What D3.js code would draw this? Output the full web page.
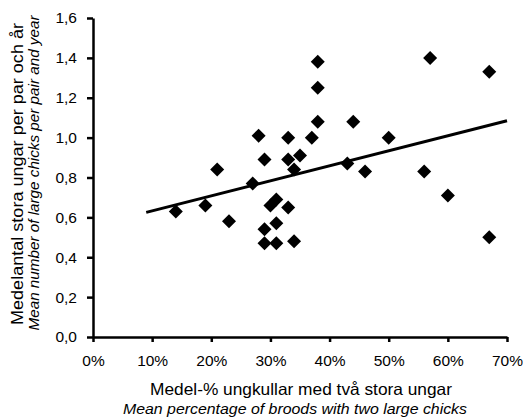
<!DOCTYPE html>
<html>
<head>
<meta charset="utf-8">
<script src="https://cdn.jsdelivr.net/npm/d3@7"></script>
<style>
  body { margin: 0; background: #fff; }
  svg { display: block; font-family: "Liberation Sans", Arial, sans-serif; }
</style>
</head>
<body>
<div id="chart"></div>
<script>
// percent of broods with two large chicks
var pctBroods = [14, 19, 21, 23, 27, 28, 29, 29, 29, 30, 31, 31, 31, 33, 33, 33,
                 34, 34, 35, 37, 38, 38, 38, 43, 44, 46, 50, 56, 57, 60, 67, 67];
// mean number of large chicks per pair and year
var chicksPerPair = [0.63, 0.66, 0.84, 0.58, 0.77, 1.01, 0.89, 0.54, 0.47, 0.66, 0.69, 0.57, 0.47, 1.00, 0.89, 0.65,
                     0.84, 0.48, 0.91, 1.00, 1.38, 1.25, 1.08, 0.87, 1.08, 0.83, 1.00, 0.83, 1.40, 0.71, 1.33, 0.50];
// trend line end points
var trendX = [9, 70];
var trendY = [0.625, 1.085];

var xTicks = [0, 10, 20, 30, 40, 50, 60, 70];
var yTicks = [0, 0.2, 0.4, 0.6, 0.8, 1.0, 1.2, 1.4, 1.6];

var width = 523,
    height = 419,
    margin = {top: 18, right: 16, bottom: 82, left: 93};

var svg = d3.select("#chart").append("svg")
    .attr("width", width)
    .attr("height", height);

var x = d3.scaleLinear().domain([0, 70]).range([margin.left, width - margin.right]);
var y = d3.scaleLinear().domain([0, 1.6]).range([height - margin.bottom, margin.top]);

var commaFmt = function(d) { return d3.format(".1f")(d).replace(".", ","); };

// axes
var xAxis = svg.append("g")
    .attr("transform", "translate(0," + y(0) + ")")
    .call(d3.axisBottom(x).tickValues(xTicks).tickSize(5).tickSizeOuter(0).tickPadding(13)
          .tickFormat(function(d) { return d + "%"; }));

var yAxis = svg.append("g")
    .attr("transform", "translate(" + x(0) + ",0)")
    .call(d3.axisLeft(y).tickValues(yTicks).tickSize(6).tickSizeOuter(0).tickPadding(10)
          .tickFormat(commaFmt));

[xAxis, yAxis].forEach(function(a) {
    a.select(".domain").attr("stroke", "#000").attr("stroke-width", 2.5);
    a.selectAll(".tick line").attr("stroke", "#000").attr("stroke-width", 2.5);
    a.selectAll(".tick text").attr("fill", "#000").style("font-size", "15.5px")
        .style("font-family", "'Liberation Sans', Arial, sans-serif");
});

// trend line
svg.append("line")
    .attr("x1", x(trendX[0])).attr("y1", y(trendY[0]))
    .attr("x2", x(trendX[1])).attr("y2", y(trendY[1]))
    .attr("stroke", "#000")
    .attr("stroke-width", 3);

// diamonds
var pts = pctBroods.map(function(v, i) { return {x: v, y: chicksPerPair[i]}; });
svg.append("g").selectAll("path").data(pts).enter().append("path")
    .attr("d", "M0,-7L7,0L0,7L-7,0Z")
    .attr("transform", function(d) { return "translate(" + x(d.x) + "," + y(d.y) + ")"; })
    .attr("fill", "#000");

// axis titles
svg.append("text")
    .attr("x", 301).attr("y", 395)
    .attr("text-anchor", "middle")
    .attr("textLength", 302).attr("lengthAdjust", "spacingAndGlyphs")
    .style("font-size", "16.5px")
    .text("Medel-% ungkullar med två stora ungar");
svg.append("text")
    .attr("x", 295).attr("y", 413.5)
    .attr("text-anchor", "middle")
    .attr("textLength", 344).attr("lengthAdjust", "spacingAndGlyphs")
    .style("font-size", "14.5px")
    .style("font-style", "italic")
    .text("Mean percentage of broods with two large chicks");

svg.append("text")
    .attr("transform", "translate(22.5,174) rotate(-90)")
    .attr("text-anchor", "middle")
    .attr("textLength", 302).attr("lengthAdjust", "spacingAndGlyphs")
    .style("font-size", "16.5px")
    .text("Medelantal stora ungar per par och år");
svg.append("text")
    .attr("transform", "translate(38.5,173) rotate(-90)")
    .attr("text-anchor", "middle")
    .attr("textLength", 315).attr("lengthAdjust", "spacingAndGlyphs")
    .style("font-size", "14.5px")
    .style("font-style", "italic")
    .text("Mean number of large chicks per pair and year");
</script>
</body>
</html>
